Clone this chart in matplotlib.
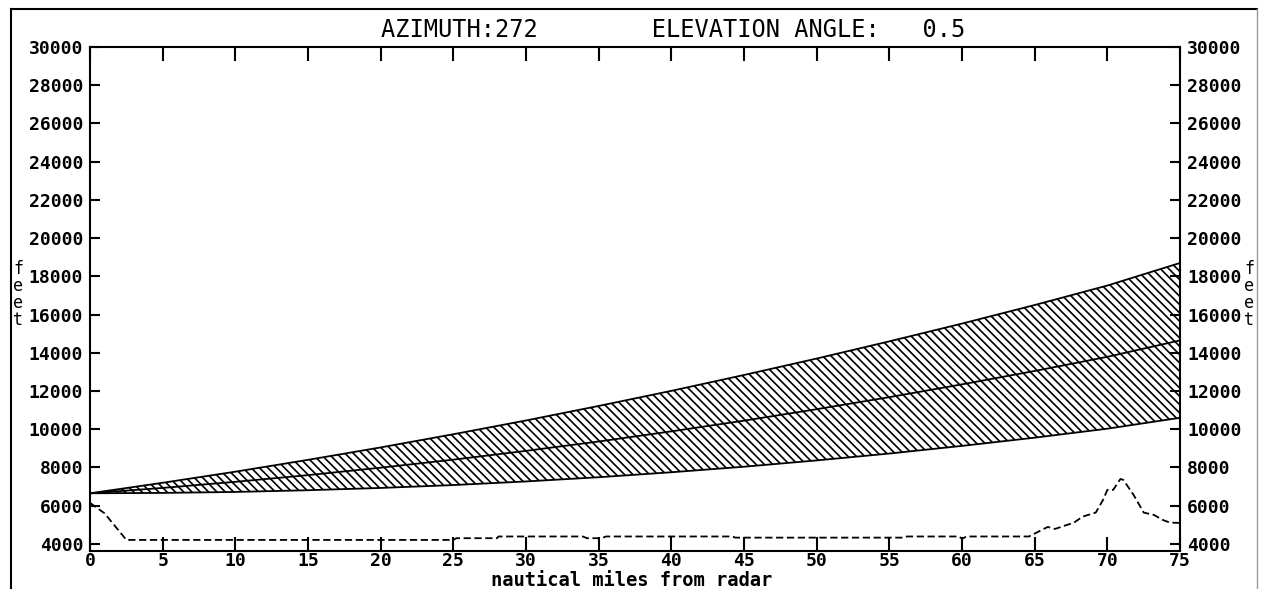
import matplotlib
matplotlib.use("Agg")
import matplotlib.pyplot as plt
from matplotlib.lines import Line2D

# range from radar (nautical miles)
beam_nm = [0, 5, 10, 15, 20, 25, 30, 35, 40, 45, 50, 55, 60, 65, 70, 75]
beam_center = [6650, 6930, 7250, 7600, 7990, 8410, 8870, 9360, 9890, 10450,
               11050, 11680, 12350, 13050, 13790, 14650]
beam_top = [6650, 7200, 7780, 8400, 9050, 9740, 10460, 11220, 12010, 12840,
            13700, 14600, 15530, 16500, 17520, 18700]
beam_bottom = [6650, 6670, 6720, 6810, 6930, 7080, 7270, 7490, 7750, 8040,
               8370, 8730, 9130, 9560, 10030, 10600]

# terrain profile along the radial
terrain_nm = [0, 1.0, 2.5, 25.0, 25.2, 28.0, 28.1, 33.9, 34.2, 35.2, 35.5,
              44.2, 44.4, 56.0, 56.2, 59.8, 60.0, 60.3, 64.6, 65.9, 66.4,
              66.8, 67.7, 68.3, 69.2, 69.7, 70.0, 70.4, 70.9, 71.1, 71.8,
              72.5, 73.2, 73.8, 74.3, 75.0]
terrain_ft = [6150, 5600, 4210, 4210, 4300, 4300, 4390, 4390, 4300, 4300, 4390,
              4390, 4330, 4330, 4390, 4390, 4270, 4390, 4390, 4890, 4785,
              4890, 5115, 5430, 5640, 6300, 6830, 6830, 7400, 7350, 6570,
              5640, 5520, 5260, 5115, 5100]

xticks = list(range(0, 80, 5))
yticks = list(range(4000, 32000, 2000))

mono = "DejaVu Sans Mono"
plt.rcParams["hatch.linewidth"] = 1.2

fig = plt.figure(figsize=(12.61, 5.89), dpi=100)
ax = fig.add_axes([0.0714, 0.0645, 0.8644, 0.8557])

ax.fill_between(beam_nm, beam_bottom, beam_top, facecolor="white",
                edgecolor="black", hatch="\\\\\\\\", linewidth=0)
ax.plot(beam_nm, beam_top, color="black", lw=1.3)
ax.plot(beam_nm, beam_center, color="black", lw=1.3)
ax.plot(beam_nm, beam_bottom, color="black", lw=1.3)
ax.plot(terrain_nm, terrain_ft, color="black", lw=1.3, linestyle=(0, (4, 2)))

ax.set_xlim(0, 75)
ax.set_ylim(3630, 30000)
ax.set_xticks(xticks)
ax.set_yticks(yticks)
ax.tick_params(axis="x", direction="in", length=10, width=1.5, top=True, pad=1)
ax.tick_params(axis="y", direction="in", length=7, width=1.5, right=True,
               labelright=True, pad=5)
for lab in ax.get_xticklabels():
    lab.set_fontfamily(mono)
    lab.set_fontweight("bold")
    lab.set_fontsize(13)
for t in ax.yaxis.get_major_ticks():
    for lab in (t.label1, t.label2):
        lab.set_fontfamily(mono)
        lab.set_fontweight("bold")
        lab.set_fontsize(13)
for side in ax.spines.values():
    side.set_linewidth(1.5)

fig.text(0.501, 1 - 580 / 589, "nautical miles from radar", ha="center",
         va="center", fontfamily=mono, fontweight="bold", fontsize=13.5)

fig.text(0.5337, 1 - 30 / 589, "AZIMUTH:272        ELEVATION ANGLE:   0.5",
         ha="center", va="center", fontfamily=mono, fontsize=17)
fig.text(0.0143, 0.5, "f\ne\ne\nt", ha="center", va="center",
         fontfamily=mono, fontsize=12, linespacing=0.95)
fig.text(0.9905, 0.5, "f\ne\ne\nt", ha="center", va="center",
         fontfamily=mono, fontsize=12, linespacing=0.95)

# outer frame
fig.add_artist(Line2D([0.0087, 0.9968], [0.985, 0.985], color="black", lw=1.5,
                      transform=fig.transFigure))
fig.add_artist(Line2D([0.0087, 0.0087], [0.0, 0.985], color="black", lw=1.5,
                      transform=fig.transFigure))
fig.add_artist(Line2D([0.9968, 0.9968], [0.0, 0.985], color="#999999", lw=1.0,
                      transform=fig.transFigure))

fig.savefig("out.png", dpi=100)
